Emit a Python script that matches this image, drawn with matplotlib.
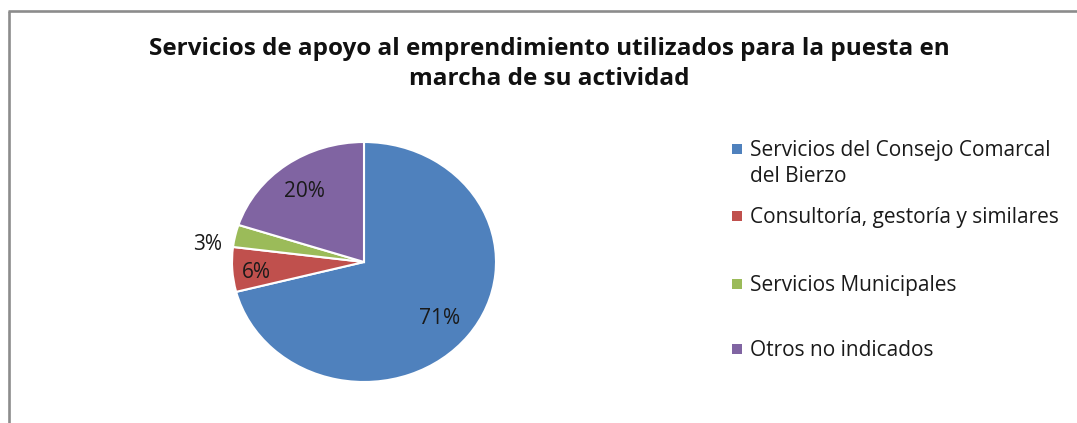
import matplotlib
matplotlib.use("Agg")
import matplotlib.pyplot as plt
import matplotlib.transforms as mtransforms
import numpy as np
from matplotlib.lines import Line2D
from matplotlib.patches import Rectangle

# ---- data ----
title = "Servicios de apoyo al emprendimiento utilizados para la puesta en\nmarcha de su actividad"
categories = ["Servicios del Consejo Comarcal\ndel Bierzo",
              "Consultoría, gestoría y similares",
              "Servicios Municipales",
              "Otros no indicados"]
values = [71, 6, 3, 20]
colors = ["#4F81BD", "#C0504D", "#9BBB59", "#8064A2"]

# ---- style / layout ----
label_radius = [0.72, 0.82, 1.20, 0.77]
label_angle_shift = [0, 0, 4.2, 0]
legend_y_px = [149, 216, 284, 349]   # y of first text line centre (pixels from top)
W, H = 1077, 423
FONT = "Open Sans"

fig = plt.figure(figsize=(W / 100, H / 100), dpi=100)
fig.patch.set_facecolor("white")

# chart border (cut off at right and bottom)
fig.add_artist(Line2D([9 / W, 9 / W], [0, 1 - 11 / H], color="#8c8c8c", lw=1.9,
                      transform=fig.transFigure, solid_capstyle="butt"))
fig.add_artist(Line2D([8 / W, 1], [1 - 11 / H, 1 - 11 / H], color="#8c8c8c", lw=1.9,
                      transform=fig.transFigure, solid_capstyle="butt"))

# title
fig.text(549 / W, 1 - 64 / H, title, ha="center", va="center", fontsize=17.5,
         fontweight="bold", family=FONT, color="#111111", linespacing=1.3)

# pie axes (slightly elliptical like the original)
cx, cy, rx, ry = 364, 262, 132, 120
ax = fig.add_axes([(cx - rx) / W, (H - cy - ry) / H, 2 * rx / W, 2 * ry / H])
wedges, _ = ax.pie(values, colors=colors, startangle=90, counterclock=False,
                   wedgeprops=dict(edgecolor="white", linewidth=1.5))
ax.set_aspect("auto")
ax.set_xlim(-1, 1)
ax.set_ylim(-1, 1)
ax.axis("off")

# percentage labels positioned along each wedge's mid angle
lbl_trans = mtransforms.offset_copy(ax.transData, fig=fig, x=0, y=-4, units="dots")
total = sum(values)
for w, v, r, da in zip(wedges, values, label_radius, label_angle_shift):
    ang = np.deg2rad((w.theta1 + w.theta2) / 2 + da)
    ax.text(r * np.cos(ang), r * np.sin(ang), f"{round(100 * v / total)}%",
            ha="center", va="center", fontsize=15, family=FONT, color="#1a1a1a",
            transform=lbl_trans)

# legend (Excel-style layout: marker aligned to first text line)
for cat, col, yp in zip(categories, colors, legend_y_px):
    fig.add_artist(Rectangle((732 / W, 1 - (yp + 5) / H), 10 / W, 10 / H,
                             facecolor=col, edgecolor="none",
                             transform=fig.transFigure))
    fig.text(750 / W, 1 - (yp - 9) / H, cat, ha="left", va="top", fontsize=15,
             family=FONT, color="#1a1a1a", linespacing=1.3)

fig.savefig("out.png", dpi=100, facecolor="white")
